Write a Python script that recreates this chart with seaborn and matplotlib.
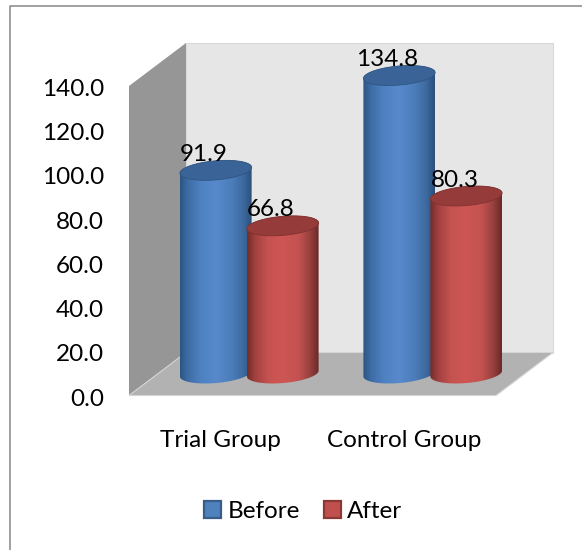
import numpy as np
import pandas as pd
import matplotlib
matplotlib.use("Agg")
import matplotlib.pyplot as plt
import matplotlib.transforms as mtransforms
from matplotlib.colors import LinearSegmentedColormap
from matplotlib.lines import Line2D
from matplotlib.patches import Polygon
import seaborn as sns

groups = ["Trial Group", "Control Group"]
periods = ["Before", "After"]
before_values = [91.9, 134.8]
after_values = [66.8, 80.3]
y_ticks = [0, 20, 40, 60, 80, 100, 120, 140]

sns.set_theme(style="white")
plt.rcParams["font.family"] = ["Lato", "DejaVu Sans"]

df = pd.DataFrame({
    "group": groups * 2,
    "period": [periods[0]] * 2 + [periods[1]] * 2,
    "value": before_values + after_values,
})

FS = 17.5
fig = plt.figure(figsize=(5.82, 5.5), dpi=100)
fig.patch.set_facecolor("white")
ax = fig.add_axes([129 / 582, 1 - 395.5 / 550, 367 / 582, 309.5 / 550])
ax.patch.set_visible(False)

sns.barplot(
    data=df, x="group", y="value", hue="period",
    palette=["#4f81bd", "#c0504d"], saturation=1, width=0.73, gap=0,
    edgecolor="none", ax=ax,
)
ax.set_xlim(-0.5, 1.5)
ax.set_ylim(0, 140)

# legend first, handles are taken from the real bars
handles, labels = ax.get_legend_handles_labels()
ax.get_legend().remove()
for h, edge in zip(handles, ["#385d8a", "#8c3836"]):
    h.set_edgecolor(edge)
    h.set_linewidth(1.6)
fig.legend(
    handles, labels, ncol=2, frameon=False, fontsize=FS, labelcolor="black",
    loc="center", bbox_to_anchor=(303 / 582, 1 - 511.5 / 550),
    handlelength=0.7, handleheight=0.7, handletextpad=0.28,
    columnspacing=0.98, borderpad=0,
)

# the 3D box behind the bars
dx, dy = 57 / 367, 43 / 309.5
ax.add_patch(Polygon([(dx, dy), (1 + dx, dy), (1 + dx, 1 + dy), (dx, 1 + dy)],
                     transform=ax.transAxes, fc="#e6e6e6", ec="#d9d9d9", lw=0.8,
                     clip_on=False, zorder=0.1))
ax.add_patch(Polygon([(0, 0), (dx, dy), (dx, 1 + dy), (0, 1)],
                     transform=ax.transAxes, fc="#969696", ec="none",
                     clip_on=False, zorder=0.2))
ax.add_patch(Polygon([(0, 0), (1, 0), (1 + dx, dy), (dx, dy)],
                     transform=ax.transAxes, fc="#b2b2b2", ec="#d4d4d4", lw=0.8,
                     clip_on=False, zorder=0.3))

# bars sit half way into the box
offset = ax.transData + mtransforms.ScaledTranslation(0.285, 0.22, fig.dpi_scale_trans)
px_x = 367 / 2.0
px_y = 309.5 / 140.0
bar_w = 72 / px_x
tilt = np.deg2rad(5.0)
semi_b = 9.5

blue_map = LinearSegmentedColormap.from_list("b", [
    (0, "#2c5584"), (0.12, "#3f6ea8"), (0.3, "#4f82c2"), (0.5, "#5789cc"),
    (0.72, "#4c7dba"), (0.88, "#3d6a9f"), (1, "#2b4f7c")])
red_map = LinearSegmentedColormap.from_list("r", [
    (0, "#742c2a"), (0.12, "#a34240"), (0.3, "#c65351"), (0.5, "#ce5654"),
    (0.72, "#c25250"), (0.88, "#97403e"), (1, "#6a2827")])


def ellipse(xc, yc, t):
    a = bar_w * px_x / 2
    ex = a * np.cos(t) * np.cos(tilt) - semi_b * np.sin(t) * np.sin(tilt)
    ey = a * np.cos(t) * np.sin(tilt) + semi_b * np.sin(t) * np.cos(tilt)
    return np.column_stack([xc + ex / px_x, yc + ey / px_y])


ramp = np.linspace(0, 1, 256).reshape(1, -1)
series = [(ax.containers[0], blue_map, "#3a6497", "#2f5582"),
          (ax.containers[1], red_map, "#953b39", "#7f3230")]
z = 2.0
for cont, cmap, top_fc, top_ec in series:
    for bar in cont:
        xc = bar.get_x() + bar.get_width() / 2
        h = bar.get_height()
        # the seaborn bar stays as the core of the cylinder
        bar.set_width(bar_w * 0.6)
        bar.set_x(xc - bar_w * 0.3)
        bar.set_transform(offset)
        bar.set_clip_on(False)
        bar.set_zorder(z)

        t_up = np.linspace(0, np.pi, 80)
        t_low = np.linspace(np.pi, 2 * np.pi, 80)
        body = np.vstack([ellipse(xc, h, t_up), ellipse(xc, 0, t_low)])
        clip = Polygon(body, transform=offset, fc="none", ec="none")
        ax.add_patch(clip)
        clip.set_clip_on(False)
        im = ax.imshow(ramp, cmap=cmap, aspect="auto", interpolation="bilinear",
                       extent=(xc - bar_w / 2, xc + bar_w / 2, -10, h + 10),
                       transform=offset, zorder=z + 0.1)
        im.set_clip_path(clip)
        im.set_clip_box(fig.bbox)
        ax.add_patch(Polygon(ellipse(xc, h, np.linspace(0, 2 * np.pi, 120)),
                             transform=offset, fc=top_fc, ec=top_ec, lw=0.6,
                             clip_on=False, zorder=z + 0.2))
        ax.annotate(f"{h:.1f}", (xc, h), xycoords=offset,
                    xytext=(-8.5, 11.5), textcoords="offset points",
                    ha="center", va="center", fontsize=FS, color="black",
                    zorder=10, annotation_clip=False)
        z += 1
ax.set_xlim(-0.5, 1.5)
ax.set_ylim(0, 140)

ax.set_yticks(y_ticks)
ax.set_yticklabels([f"{v:.1f}" for v in y_ticks])
ax.tick_params(axis="y", length=0, pad=18, labelsize=FS, labelcolor="black")
ax.tick_params(axis="x", length=0, pad=24.5, labelsize=FS, labelcolor="black")
ax.set_xlabel("")
ax.set_ylabel("")
sns.despine(ax=ax, left=True, bottom=True)

# tick text sits a touch lower than the gridline position
nudge = mtransforms.ScaledTranslation(0, -0.015, fig.dpi_scale_trans)
for lab in ax.get_yticklabels():
    lab.set_transform(lab.get_transform() + nudge)

# outer chart border, right and bottom fall off the picture
fig.add_artist(Line2D([9.5 / 582, 9.5 / 582, 1], [0, 1 - 5.5 / 550, 1 - 5.5 / 550],
                      transform=fig.transFigure, color="#868686", lw=1.1))

fig.savefig("out.png", dpi=100)
